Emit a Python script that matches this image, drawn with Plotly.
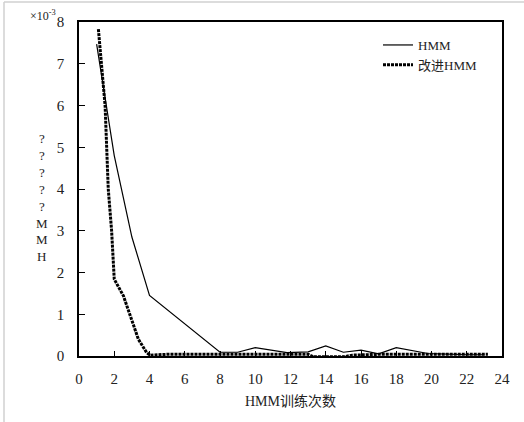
import plotly.graph_objects as go

# Training error of the plain HMM versus the improved HMM (values in units of 1e-3)
hmm_x = [1, 2, 3, 4, 8, 9, 10, 11.8, 13, 14, 15, 16, 17, 18, 19.8, 21, 22, 23]
hmm_y = [7.47, 4.8, 2.85, 1.45, 0.09, 0.09, 0.2, 0.08, 0.1, 0.24, 0.09, 0.14, 0.05, 0.2, 0.06, 0.04, 0.03, 0.03]

imp_x = [1.10, 1.29, 1.48, 1.57, 1.66, 1.85, 1.95, 2.0, 2.52, 2.89, 3.37, 3.84, 4.03,
         5, 6, 7, 8, 9, 10, 11, 12, 13, 13.3, 14, 15, 15.5, 16, 17, 18, 19, 20, 21, 22, 23.2]
imp_y = [7.83, 7.0, 6.0, 5.0, 4.0, 3.0, 2.0, 1.84, 1.44, 1.0, 0.4, 0.08, 0.02,
         0.04, 0.04, 0.04, 0.05, 0.05, 0.05, 0.05, 0.04, 0.04, -0.02, -0.02, -0.02, 0.02, 0.03, 0.04, 0.04, 0.04, 0.04, 0.04, 0.04, 0.04]

x_ticks = list(range(0, 25, 2))
y_ticks = list(range(0, 9))

serif = "'Times New Roman', 'Liberation Serif', 'Noto Sans CJK SC', serif"

W, H = 524, 422
L, R, T, B = 79, 22, 22, 66
pw, ph = W - L - R, H - T - B


def px(xp):
    return (xp - L) / pw


def py(yp):
    return (H - B - yp) / ph


fig = go.Figure()
fig.add_trace(go.Scatter(x=hmm_x, y=hmm_y, mode="lines", name="HMM",
                         line=dict(color="black", width=1.2)))
fig.add_trace(go.Scatter(x=imp_x, y=imp_y, mode="lines", name="改进HMM",
                         line=dict(color="black", width=3, dash="3px,1px")))

axis_common = dict(showgrid=False, zeroline=False, showline=True, mirror=True,
                   linecolor="black", linewidth=1.5, ticks="inside",
                   tickcolor="black", tickwidth=1.2,
                   tickfont=dict(family=serif, size=15, color="#222"))

fig.update_xaxes(range=[0, 24], tickvals=x_ticks, ticklen=5, ticklabelstandoff=8,
                 title=dict(text="HMM训练次数", font=dict(family=serif, size=14, color="#222"),
                            standoff=10),
                 **axis_common)
fig.update_yaxes(range=[0, 8], tickvals=y_ticks, ticklen=6, ticklabelstandoff=10,
                 **axis_common)

fig.update_layout(
    width=W, height=H,
    margin=dict(l=L, r=R, t=T, b=B),
    paper_bgcolor="white", plot_bgcolor="white",
    showlegend=True,
    legend=dict(x=px(378), y=py(30), xanchor="left", yanchor="top",
                bgcolor="rgba(0,0,0,0)", borderwidth=0,
                font=dict(family=serif, size=13, color="#222"),
                tracegroupgap=2),
    annotations=[
        dict(text="×10<sup>-3</sup>", x=px(28), y=py(15), xref="paper", yref="paper",
             xanchor="left", yanchor="middle", showarrow=False,
             font=dict(family=serif, size=12, color="#222")),
        dict(text="?<br>?<br>?<br>?<br>?<br>M<br>M<br>H", x=px(42), y=py(197),
             xref="paper", yref="paper", xanchor="center", yanchor="middle",
             showarrow=False, font=dict(family=serif, size=13, color="#222")),
    ],
    shapes=[
        dict(type="line", xref="paper", yref="paper", x0=px(4), x1=px(524), y0=py(2), y1=py(2),
             line=dict(color="#d0d0d0", width=1.5)),
        dict(type="line", xref="paper", yref="paper", x0=px(4), x1=px(4), y0=py(2), y1=py(422),
             line=dict(color="#d0d0d0", width=1.5)),
    ],
)

fig.write_html("out.html")
